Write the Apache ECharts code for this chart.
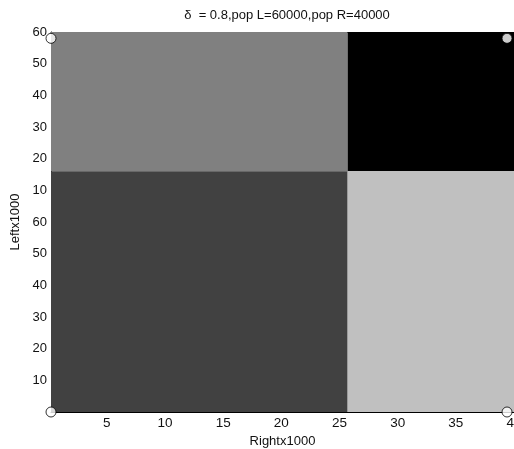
<!DOCTYPE html>
<html><head><meta charset="utf-8">
<script src="https://cdn.jsdelivr.net/npm/echarts@6/dist/echarts.min.js"></script>
<style>html,body{margin:0;padding:0;background:#fff}#c{width:514px;height:449px}</style>
</head><body><div id="c"></div>
<script>
// Regions: [xStart, xEnd, yStart, yEnd, color]
const regionX0 = [0.2, 25.7, 0.2, 25.7];
const regionX1 = [25.7, 40, 25.7, 40];
const regionY0 = [76, 76, 0, 0];
const regionY1 = [120, 120, 76, 76];
const regionColors = ['#808080', '#000000', '#414141', '#c0c0c0'];
// corner markers
const markerX = [0.2, 39.4, 0.2, 39.4];
const markerY = [0, 0, 118, 118];
const xTicks = [5, 10, 15, 20, 25, 30, 35, 40];
const yTickLabels = ['', '10', '20', '30', '40', '50', '60', '10', '20', '30', '40', '50', '60'];
const titleText = 'δ  = 0.8,pop L=60000,pop R=40000';

const cells = regionX0.map((x0, i) => [x0, regionX1[i], regionY0[i], regionY1[i], i]);
const markers = markerX.map((x, i) => [x, markerY[i]]);
const font = 'Liberation Sans';

const chart = echarts.init(document.getElementById('c'));
chart.setOption({
  animation: false,
  backgroundColor: '#fff',
  grid: {left: 51, right: 0, top: 32, bottom: 37, containLabel: false, outerBoundsMode: 'none'},
  graphic: [{type: 'text', x: 287, y: 15, style: {text: titleText, font: '13px "Liberation Sans"', fill: '#111', textAlign: 'center', textVerticalAlign: 'middle'}}],
  xAxis: [{
    type: 'value', min: 0.2, max: 40, position: 'bottom',
    name: 'Rightx1000', nameLocation: 'middle', nameGap: 22,
    nameTextStyle: {fontFamily: font, fontSize: 13, color: '#111'},
    axisLine: {show: true, lineStyle: {color: '#000', width: 1}},
    axisTick: {show: true, inside: true, length: 4, customValues: xTicks, lineStyle: {color: '#000'}},
    axisLabel: {customValues: xTicks, fontFamily: font, fontSize: 13.5, color: '#111', margin: 4, hideOverlap: false},
    splitLine: {show: false}
  }, {
    type: 'value', min: 0.2, max: 40, position: 'top',
    axisLine: {show: true, lineStyle: {color: '#000', width: 1}},
    axisTick: {show: true, inside: true, length: 4, customValues: xTicks, lineStyle: {color: '#000'}},
    axisLabel: {show: false},
    splitLine: {show: false}
  }],
  yAxis: {
    type: 'value', min: 0, max: 120, interval: 10,
    name: 'Leftx1000', nameLocation: 'middle', nameGap: 23,
    nameTextStyle: {fontFamily: font, fontSize: 13, color: '#111'},
    axisLine: {show: true, lineStyle: {color: '#000', width: 1}},
    axisTick: {show: true, inside: true, length: 4, lineStyle: {color: '#000'}},
    axisLabel: {fontFamily: font, fontSize: 13, color: '#111', margin: 4,
      formatter: v => yTickLabels[Math.round(v / 10)]},
    splitLine: {show: false}
  },
  series: [{
    type: 'custom', xAxisIndex: 0, z: 1,
    data: cells,
    renderItem: (params, api) => {
      const p0 = api.coord([api.value(0), api.value(3)]);
      const p1 = api.coord([api.value(1), api.value(2)]);
      return {type: 'rect', shape: {x: p0[0], y: p0[1], width: p1[0] - p0[0], height: p1[1] - p0[1]},
        style: {fill: regionColors[api.value(4)]}};
    }
  }, {
    type: 'scatter', xAxisIndex: 0, z: 5, clip: false,
    data: markers, symbol: 'circle', symbolSize: 10,
    itemStyle: {color: '#fff', borderColor: '#000', borderWidth: 1}
  }]
});
</script></body></html>
